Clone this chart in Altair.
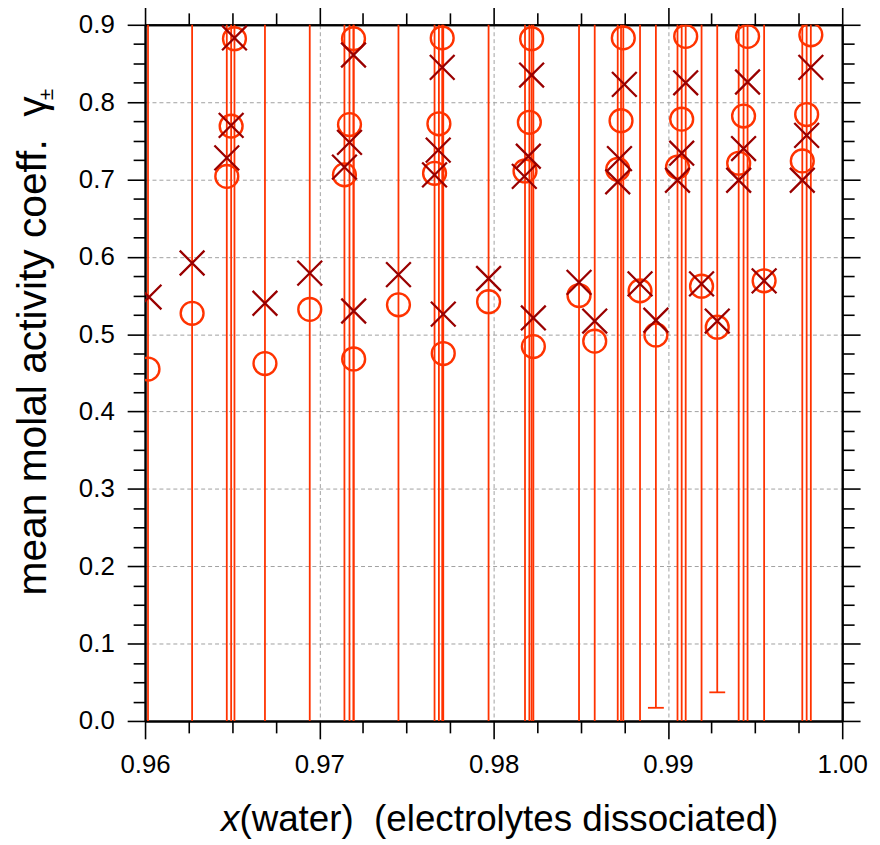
import altair as alt
import pandas as pd

# ---------------- data ----------------
CIRCLE_X = [0.96017, 0.96270, 0.96469, 0.96494, 0.96513, 0.96688, 0.96945, 0.97144, 0.97173, 0.97196,
            0.97197, 0.97454, 0.97661, 0.97686, 0.97705, 0.97711, 0.97971, 0.98180, 0.98205, 0.98218,
            0.98228, 0.98490, 0.98580, 0.98712, 0.98731, 0.98744, 0.98840, 0.98931, 0.99055, 0.99079,
            0.99102, 0.99193, 0.99283, 0.99406, 0.99434, 0.99457, 0.99552, 0.99771, 0.99796, 0.99820]
CIRCLE_Y = [0.455, 0.527, 0.704, 0.769, 0.882, 0.462, 0.532, 0.706, 0.771, 0.882,
            0.468, 0.538, 0.708, 0.772, 0.883, 0.475, 0.542, 0.711, 0.774, 0.882,
            0.484, 0.550, 0.491, 0.713, 0.776, 0.883, 0.556, 0.499, 0.716, 0.778,
            0.885, 0.562, 0.509, 0.721, 0.782, 0.885, 0.569, 0.724, 0.784, 0.887]
CIRCLE_ERR = [1.0, 1.0, 1.0, 1.0, 1.0, 1.0, 1.0, 1.0, 1.0, 1.0,
              1.0, 1.0, 1.0, 1.0, 1.0, 1.0, 1.0, 1.0, 1.0, 1.0,
              1.0, 1.0, 1.0, 1.0, 1.0, 1.0, 1.0, 0.482, 1.0, 1.0,
              1.0, 1.0, 0.472, 1.0, 1.0, 1.0, 1.0, 1.0, 1.0, 1.0]

CROSS_X = [0.96023, 0.96270, 0.96469, 0.96494, 0.96513, 0.96688, 0.96945, 0.97144, 0.97173, 0.97196,
           0.97197, 0.97454, 0.97661, 0.97682, 0.97705, 0.97711, 0.97971, 0.98176, 0.98199, 0.98218,
           0.98228, 0.98490, 0.98580, 0.98712, 0.98722, 0.98750, 0.98840, 0.98931, 0.99055, 0.99079,
           0.99102, 0.99193, 0.99283, 0.99406, 0.99434, 0.99457, 0.99552, 0.99771, 0.99796, 0.99820]
CROSS_Y = [0.548, 0.592, 0.728, 0.770, 0.883, 0.540, 0.579, 0.716, 0.748, 0.861,
           0.530, 0.577, 0.706, 0.738, 0.845, 0.526, 0.572, 0.704, 0.730, 0.835,
           0.521, 0.567, 0.517, 0.697, 0.727, 0.823, 0.565, 0.518, 0.699, 0.734,
           0.825, 0.565, 0.517, 0.699, 0.740, 0.826, 0.569, 0.699, 0.757, 0.845]

X_MAJOR = [0.96, 0.97, 0.98, 0.99, 1.00]
X_MINOR = [0.9625, 0.965, 0.9675, 0.9725, 0.975, 0.9775, 0.9825, 0.985, 0.9875,
           0.9925, 0.995, 0.9975]
Y_MAJOR = [0.0, 0.1, 0.2, 0.3, 0.4, 0.5, 0.6, 0.7, 0.8, 0.9]
Y_MINOR = [0.025, 0.05, 0.075, 0.125, 0.15, 0.175, 0.225, 0.25, 0.275,
           0.325, 0.35, 0.375, 0.425, 0.45, 0.475, 0.525, 0.55, 0.575,
           0.625, 0.65, 0.675, 0.725, 0.75, 0.775, 0.825, 0.85, 0.875]

X_TITLE_ITALIC = "x"
X_TITLE_REST = "(water)\u00a0\u00a0(electrolytes dissociated)"
Y_TITLE_MAIN = "mean molal activity coeff.\u00a0\u00a0\u03b3"
Y_TITLE_SUB = "\u00b1"

# ---------------- styling ----------------
W, H = 702, 701
FONT = "Liberation Sans"
LABEL_SIZE = 26
ORANGE = "#FF3300"
DARKRED = "#990000"
X_SHAPE = "M-1,-1L1,1M-1,1L1,-1"

circles = pd.DataFrame({"x": CIRCLE_X, "y": CIRCLE_Y, "err": CIRCLE_ERR})
crosses = pd.DataFrame({"x": CROSS_X, "y": CROSS_Y})

xscale = alt.Scale(domain=[0.96, 1.0], nice=False, zero=False)
yscale = alt.Scale(domain=[0.0, 0.9], nice=False, zero=False)


def make_axis(orient, values, major, labels, grid, fmt):
    return alt.Axis(
        orient=orient, values=values, format=fmt, labels=labels,
        tickSize=18 if major else 12, tickWidth=1.6, tickColor="black",
        domain=True, domainColor="black", domainWidth=2,
        grid=grid, gridColor="#a0a0a0", gridDash=[4, 3], gridWidth=1,
        labelFont=FONT, labelFontSize=LABEL_SIZE, labelColor="black",
        labelPadding=13, labelFlush=False, labelOverlap=False, labelBound=False,
    )


err_base = alt.Chart(circles).transform_calculate(
    lo="datum.y - datum.err", hi="datum.y + datum.err"
)

bars = err_base.mark_rule(clip=True, color=ORANGE, strokeWidth=1.8).encode(
    x=alt.X("x:Q", scale=xscale, title=None,
            axis=make_axis("bottom", X_MAJOR, True, True, True, ".2f")),
    y=alt.Y("lo:Q", scale=yscale, title=None,
            axis=make_axis("left", Y_MAJOR, True, True, True, ".1f")),
    y2="hi:Q",
)

caps_lo = err_base.mark_tick(clip=True, orient="horizontal", color=ORANGE,
                             size=16, thickness=1.8, opacity=1).encode(
    x=alt.X("x:Q", scale=xscale, title=None,
            axis=make_axis("bottom", X_MINOR, False, False, False, ".2f")),
    y=alt.Y("lo:Q", scale=yscale, title=None,
            axis=make_axis("left", Y_MINOR, False, False, False, ".1f")),
)

caps_hi = err_base.mark_tick(clip=True, orient="horizontal", color=ORANGE,
                             size=16, thickness=1.8, opacity=1).encode(
    x=alt.X("x:Q", scale=xscale, axis=None),
    y=alt.Y("hi:Q", scale=yscale, axis=None),
)

circ = alt.Chart(circles).mark_point(
    shape="circle", filled=False, size=530, strokeWidth=2.4,
    color=ORANGE, opacity=1, clip=True
).encode(
    x=alt.X("x:Q", scale=xscale, title=None,
            axis=make_axis("top", X_MAJOR, True, False, False, ".2f")),
    y=alt.Y("y:Q", scale=yscale, title=None,
            axis=make_axis("right", Y_MAJOR, True, False, False, ".1f")),
)

cross = alt.Chart(crosses).mark_point(
    shape=X_SHAPE, filled=False, size=620, strokeWidth=2.3,
    color=DARKRED, opacity=1, clip=True
).encode(
    x=alt.X("x:Q", scale=xscale, title=None,
            axis=make_axis("top", X_MINOR, False, False, False, ".2f")),
    y=alt.Y("y:Q", scale=yscale, title=None,
            axis=make_axis("right", Y_MINOR, False, False, False, ".1f")),
)

xt1 = alt.Chart(pd.DataFrame({"t": [X_TITLE_ITALIC]})).mark_text(
    font=FONT, fontSize=37, fontStyle="italic", align="right",
    baseline="alphabetic", color="black"
).encode(text="t:N", x=alt.value(95), y=alt.value(812))

xt2 = alt.Chart(pd.DataFrame({"t": [X_TITLE_REST]})).mark_text(
    font=FONT, fontSize=37, align="left", baseline="alphabetic", color="black"
).encode(text="t:N", x=alt.value(95), y=alt.value(812))

yt1 = alt.Chart(pd.DataFrame({"t": [Y_TITLE_MAIN]})).mark_text(
    font=FONT, fontSize=41, angle=270, align="right",
    baseline="alphabetic", color="black"
).encode(text="t:N", x=alt.value(-100), y=alt.value(72))

yt2 = alt.Chart(pd.DataFrame({"t": [Y_TITLE_SUB]})).mark_text(
    font=FONT, fontSize=21, angle=270, align="left",
    baseline="alphabetic", color="black"
).encode(text="t:N", x=alt.value(-93), y=alt.value(76))

chart = alt.layer(
    bars, caps_lo, caps_hi, circ, cross, xt1, xt2, yt1, yt2
).resolve_axis(
    x="independent", y="independent"
).properties(
    width=W, height=H,
    autosize=alt.AutoSizeParams(type="none"),
    padding={"left": 138, "top": 14, "right": 30, "bottom": 122},
).configure_view(stroke=None)

chart.save("out.html", embed_options={"renderer": "svg", "actions": False})
